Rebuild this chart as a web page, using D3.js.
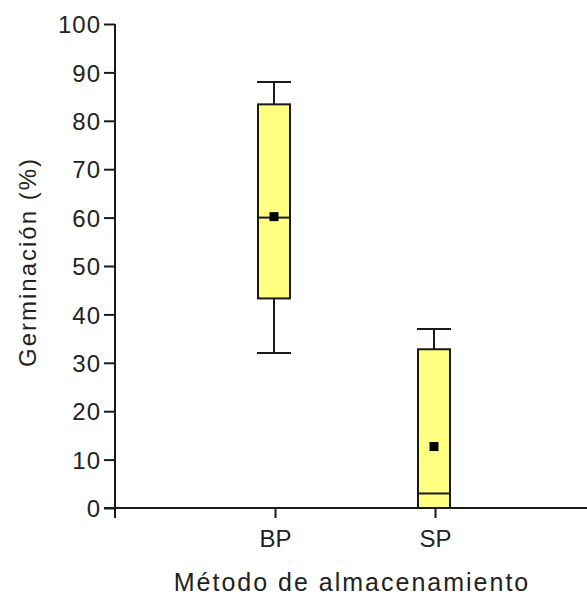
<!DOCTYPE html>
<html><head><meta charset="utf-8">
<script src="https://cdn.jsdelivr.net/npm/d3@7"></script>
<style>body{margin:0;background:#fff}svg{display:block}</style>
</head><body>
<script>
const categories = ["BP", "SP"];
const whiskerLow = [32, 0];
const q1 = [43.3, 0];
const median = [60, 3];
const q3 = [83.4, 32.8];
const whiskerHigh = [88, 37];
const means = [60.2, 12.7];
const yTicks = [0,10,20,30,40,50,60,70,80,90,100];

const W = 587, H = 598;
const svg = d3.select("body").append("svg").attr("width", W).attr("height", H);
const y = d3.scaleLinear().domain([0,100]).range([508,24]);
const x = d3.scaleLinear().domain([0,3]).range([115,595]);
const ink = "#1a1a1a";
const font = "'Liberation Sans', Arial, sans-serif";

// y axis
const ya = svg.append("g").attr("transform","translate(115,0)")
  .call(d3.axisLeft(y).tickValues(yTicks).tickSize(11).tickPadding(3));
ya.select(".domain").remove();
ya.selectAll(".tick line").attr("stroke", ink).attr("stroke-width", 2);
ya.selectAll(".tick text").attr("font-family", font).attr("font-size", 24)
  .attr("fill", "#222").attr("letter-spacing", 1).attr("dy", "0.36em");
svg.append("line").attr("x1",115).attr("x2",115).attr("y1",y(100)).attr("y2",518)
  .attr("stroke", ink).attr("stroke-width", 2);

// x axis
const xa = svg.append("g").attr("transform","translate(0,508)")
  .call(d3.axisBottom(x).tickValues([1,2]).tickFormat((d)=>categories[d-1]).tickSize(10).tickPadding(12));
xa.select(".domain").remove();
xa.selectAll(".tick line").attr("stroke", ink).attr("stroke-width", 2);
xa.selectAll(".tick text").attr("font-family", font).attr("font-size", 24).attr("fill","#222");
svg.append("line").attr("x1",104).attr("x2",W).attr("y1",508).attr("y2",508)
  .attr("stroke", ink).attr("stroke-width", 2);

// boxes
const bw = 32, cw = 34;
categories.forEach((c,i)=>{
  const cx = x(i+1) - 1;
  const g = svg.append("g");
  g.append("line").attr("x1",cx).attr("x2",cx).attr("y1",y(whiskerHigh[i])).attr("y2",y(q3[i])).attr("stroke",ink).attr("stroke-width",2);
  g.append("line").attr("x1",cx).attr("x2",cx).attr("y1",y(whiskerLow[i])).attr("y2",y(q1[i])).attr("stroke",ink).attr("stroke-width",2);
  g.append("line").attr("x1",cx-cw/2).attr("x2",cx+cw/2).attr("y1",y(whiskerHigh[i])).attr("y2",y(whiskerHigh[i])).attr("stroke",ink).attr("stroke-width",2);
  g.append("line").attr("x1",cx-cw/2).attr("x2",cx+cw/2).attr("y1",y(whiskerLow[i])).attr("y2",y(whiskerLow[i])).attr("stroke",ink).attr("stroke-width",2);
  g.append("rect").attr("x",cx-bw/2).attr("width",bw).attr("y",y(q3[i])).attr("height",y(q1[i])-y(q3[i]))
    .attr("fill","#ffff80").attr("stroke",ink).attr("stroke-width",2);
  g.append("line").attr("x1",cx-bw/2).attr("x2",cx+bw/2).attr("y1",y(median[i])).attr("y2",y(median[i])).attr("stroke",ink).attr("stroke-width",2);
  g.append("rect").attr("x",cx-4.5).attr("y",y(means[i])-4.5).attr("width",9).attr("height",9).attr("fill","#000");
});

// titles
svg.append("text").attr("x",352).attr("y",591).attr("text-anchor","middle")
  .attr("font-family",font).attr("font-size",25).attr("letter-spacing",2).attr("fill","#222")
  .text("Método de almacenamiento");
svg.append("text").attr("transform","translate(36,262) rotate(-90)").attr("text-anchor","middle")
  .attr("font-family",font).attr("font-size",24).attr("letter-spacing",2).attr("fill","#222")
  .text("Germinación (%)");
</script>
</body></html>
